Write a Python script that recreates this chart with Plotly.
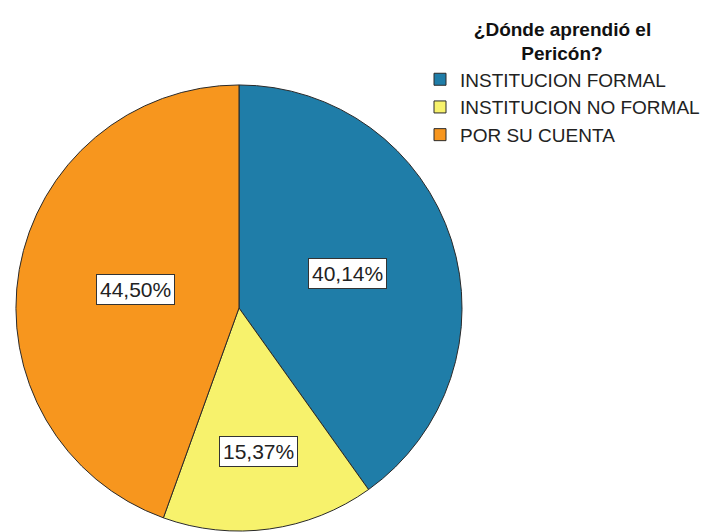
import math
import plotly.graph_objects as go

# ---- data ----
categories = ["INSTITUCION FORMAL", "INSTITUCION NO FORMAL", "POR SU CUENTA"]
percentages = [40.14, 15.37, 44.50]
label_texts = ["40,14%", "15,37%", "44,50%"]
legend_title_lines = ["¿Dónde aprendió el", "Pericón?"]

# ---- styles / geometry ----
colors = ["#1F7DA8", "#F7F26C", "#F7961E"]
W, H = 705, 532
pie_left, pie_right = 16, 464        # px
pie_top, pie_bottom = 84, 532        # px (from top)
label_radius_frac = [0.51, 0.645, 0.47]
FONT = "Liberation Sans, Arial, sans-serif"

dom_x = [pie_left / W, pie_right / W]
dom_y = [1 - pie_bottom / H, 1 - pie_top / H]

fig = go.Figure(go.Pie(
    labels=categories,
    values=percentages,
    sort=False,
    direction="clockwise",
    rotation=0,
    marker=dict(colors=colors, line=dict(color="#2a2a2a", width=1)),
    textinfo="none",
    hoverinfo="label+percent",
    domain=dict(x=dom_x, y=dom_y),
))

# label boxes placed at slice mid-angles computed from the data
cx = (pie_left + pie_right) / 2
cy = (pie_top + pie_bottom) / 2
r = min(pie_right - pie_left, pie_bottom - pie_top) / 2
total = sum(percentages)
cum = 0.0
for val, txt, frac in zip(percentages, label_texts, label_radius_frac):
    mid = (cum + val / 2) / total * 2 * math.pi
    cum += val
    px = cx + frac * r * math.sin(mid)
    py = cy - frac * r * math.cos(mid)
    fig.add_annotation(
        x=px / W, y=1 - py / H, xref="paper", yref="paper",
        xanchor="center", yanchor="middle",
        text=txt, showarrow=False,
        font=dict(family=FONT, size=21, color="#222222"),
        bgcolor="white", bordercolor="#333333", borderwidth=1, borderpad=3,
    )

title_text = ("<b>" + legend_title_lines[0] + "<br>"
              + "&nbsp;" * 9 + legend_title_lines[1] + "</b>")

fig.update_layout(
    width=W, height=H,
    margin=dict(l=0, r=0, t=0, b=0),
    paper_bgcolor="white",
    plot_bgcolor="white",
    showlegend=True,
    legend=dict(
        x=422 / W, y=1 - 11 / H, xanchor="left", yanchor="top",
        font=dict(family=FONT, size=19, color="#222222"),
        title=dict(text=title_text, side="top center",
                   font=dict(family=FONT, size=19, color="#111111")),
        itemwidth=30,
        bgcolor="rgba(0,0,0,0)",
    ),
)

fig.write_html("out.html")
